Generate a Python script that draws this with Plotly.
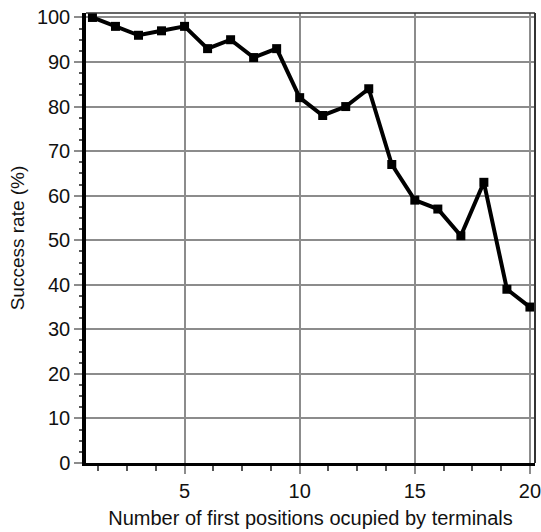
import plotly.graph_objects as go

positions = list(range(1, 21))
success_rate = [100, 98, 96, 97, 98, 93, 95, 91, 93, 82,
                78, 80, 84, 67, 59, 57, 51, 63, 39, 35]
x_ticks = [5, 10, 15, 20]
y_ticks = [0, 10, 20, 30, 40, 50, 60, 70, 80, 90, 100]

FONT = "Liberation Sans, Arial, sans-serif"

fig = go.Figure()
fig.add_trace(go.Scatter(
    x=positions, y=success_rate, mode="lines+markers",
    line=dict(color="black", width=4),
    marker=dict(symbol="square", size=9, color="black"),
    cliponaxis=False, showlegend=False,
))

fig.update_layout(
    width=541, height=532,
    margin=dict(l=86, r=6, t=13, b=69),
    paper_bgcolor="white", plot_bgcolor="white",
    font=dict(family=FONT, size=19, color="#111111"),
    xaxis=dict(
        range=[0.72, 20.22], tickvals=x_ticks, ticktext=[str(v) for v in x_ticks],
        automargin=False, ticklabeloverflow="allow",
        showgrid=True, gridcolor="#8c8c8c", gridwidth=1.5,
        ticks="outside", ticklen=8, tickcolor="#8c8c8c", tickwidth=1.5,
        minor=dict(dtick=1.25, tick0=0, ticks="outside", ticklen=5,
                   tickcolor="#555555", tickwidth=1.5, showgrid=False),
        showline=True, linecolor="black", linewidth=3, mirror=False,
        zeroline=False,
        title=dict(text="Number of first positions ocupied by terminals",
                   font=dict(size=20), standoff=10),
        tickfont=dict(size=20),
    ),
    yaxis=dict(
        range=[0, 101], tickvals=y_ticks, ticktext=[str(v) for v in y_ticks],
        automargin=False,
        showgrid=True, gridcolor="#8c8c8c", gridwidth=1.5,
        ticks="outside", ticklen=8, tickcolor="#8c8c8c", tickwidth=1.5,
        minor=dict(dtick=2.5, tick0=0, ticks="outside", ticklen=3,
                   tickcolor="#555555", tickwidth=1.5, showgrid=False),
        showline=True, linecolor="black", linewidth=3.5, mirror=False,
        zeroline=False,
        title=dict(text="Success rate (%)", font=dict(size=19), standoff=8),
        tickfont=dict(size=20),
    ),
    shapes=[
        dict(type="line", xref="paper", yref="paper", x0=0, x1=1, y0=1, y1=1,
             line=dict(color="#333333", width=1.5)),
        dict(type="line", xref="paper", yref="paper", x0=1, x1=1, y0=0, y1=1,
             line=dict(color="#333333", width=2)),
    ],
)

fig.write_html(
    "out.html",
    config={"displayModeBar": False},
    post_script="document.body.style.margin='0';document.body.style.overflow='hidden';",
)
